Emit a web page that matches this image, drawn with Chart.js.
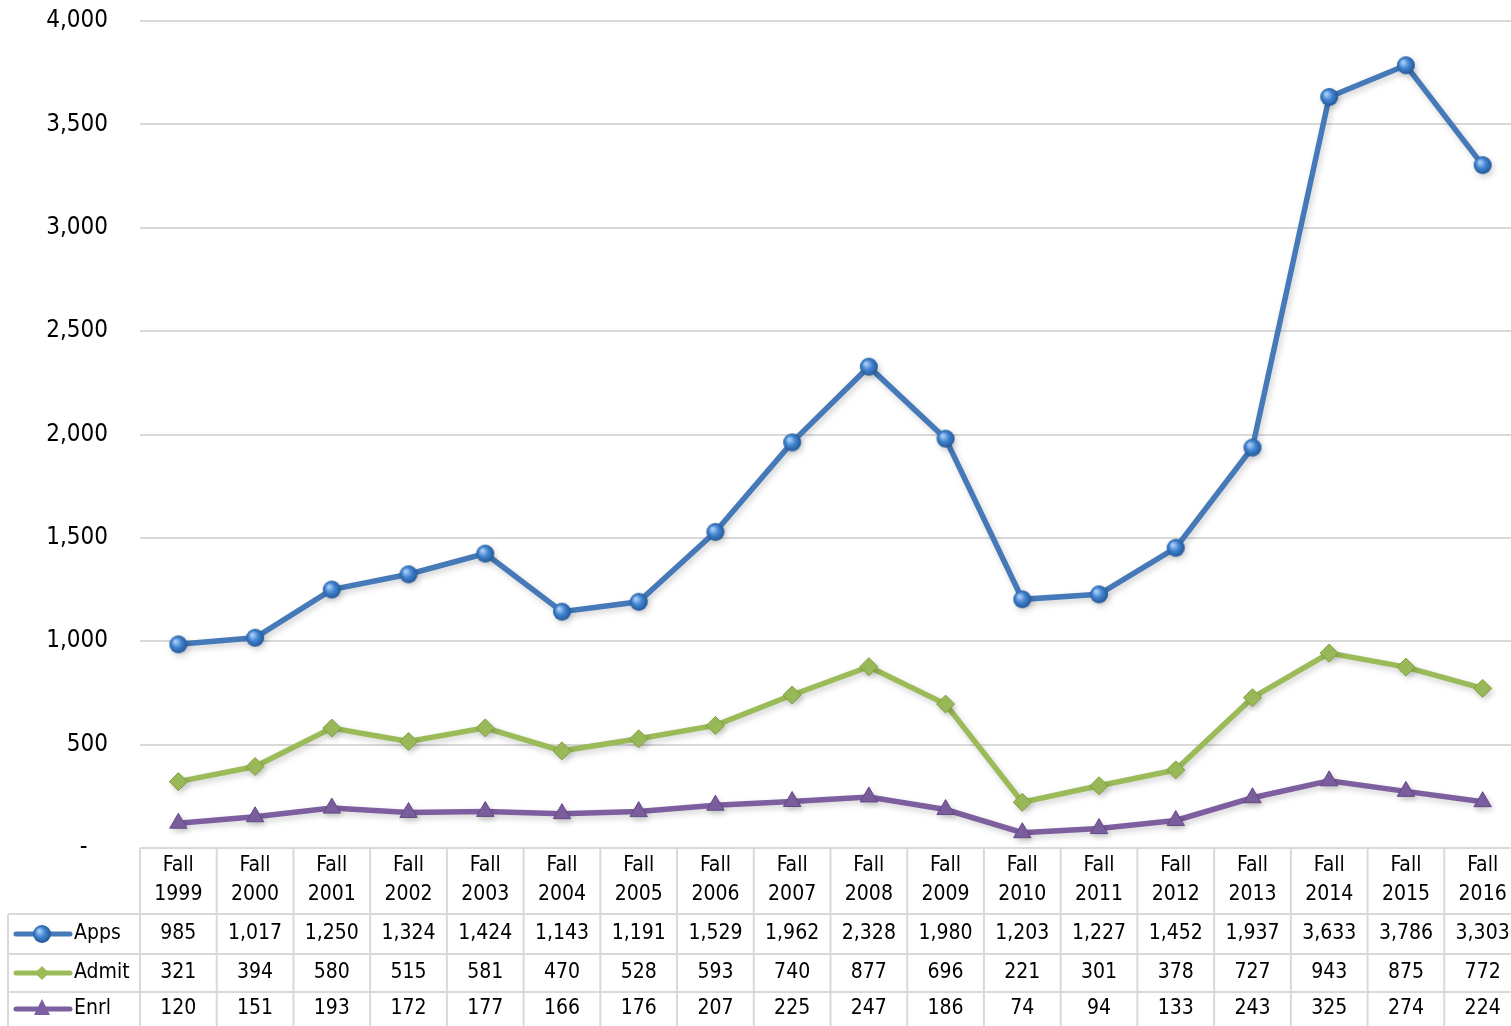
<!DOCTYPE html>
<html>
<head>
<meta charset="utf-8">
<script src="https://cdn.jsdelivr.net/npm/chart.js@4.4.1/dist/chart.umd.min.js"></script>
<style>
  html, body { margin: 0; padding: 0; background: #fff; overflow: hidden; }
  #wrap { width: 1511px; height: 1026px; position: relative; overflow: hidden; }
</style>
</head>
<body>
<!-- the original is cropped on the right, so the canvas runs a bit past the frame -->
<div id="wrap"><canvas id="admissionsChart" width="1521" height="1026"></canvas></div>
<script>
// chart values
const terms = ["Fall 1999", "Fall 2000", "Fall 2001", "Fall 2002", "Fall 2003", "Fall 2004",
  "Fall 2005", "Fall 2006", "Fall 2007", "Fall 2008", "Fall 2009", "Fall 2010",
  "Fall 2011", "Fall 2012", "Fall 2013", "Fall 2014", "Fall 2015", "Fall 2016"];
const apps = [985, 1017, 1250, 1324, 1424, 1143, 1191, 1529, 1962, 2328, 1980, 1203, 1227, 1452, 1937, 3633, 3786, 3303];
const admit = [321, 394, 580, 515, 581, 470, 528, 593, 740, 877, 696, 221, 301, 378, 727, 943, 875, 772];
const enrl = [120, 151, 193, 172, 177, 166, 176, 207, 225, 247, 186, 74, 94, 133, 243, 325, 274, 224];
const yTicks = [0, 500, 1000, 1500, 2000, 2500, 3000, 3500, 4000];

const FONT = "'DejaVu Sans Condensed', 'Liberation Sans Narrow', sans-serif";
const BLUE = "#4579b8";
const GREEN = "#9bbb59";
const PURPLE = "#7d5fa0";
const GRID = "#d9d9d9";

// shiny ball marker like the Excel one
function ballMarker(r) {
  const c = document.createElement("canvas");
  c.width = c.height = r * 2 + 2;
  const g = c.getContext("2d");
  const grad = g.createRadialGradient(r - 2, r - 2, 1, r + 1, r + 1, r + 1);
  grad.addColorStop(0, "#a6cbf5");
  grad.addColorStop(0.45, "#3f83d0");
  grad.addColorStop(1, "#1f4f8c");
  g.fillStyle = grad;
  g.beginPath();
  g.arc(r + 1, r + 1, r, 0, Math.PI * 2);
  g.fill();
  return c;
}
const ball = ballMarker(9);

function fmt(v) {
  return v.toLocaleString("en-US");
}

const series = [
  { label: "Apps", data: apps, color: BLUE },
  { label: "Admit", data: admit, color: GREEN },
  { label: "Enrl", data: enrl, color: PURPLE }
];

// soft shadow under the lines
const shadowPlugin = {
  id: "lineShadow",
  beforeDatasetDraw(chart) {
    const ctx = chart.ctx;
    ctx.save();
    ctx.shadowColor = "rgba(0,0,0,0.18)";
    ctx.shadowBlur = 6;
    ctx.shadowOffsetX = 2;
    ctx.shadowOffsetY = 3;
  },
  afterDatasetDraw(chart) {
    chart.ctx.restore();
  }
};

// data table under the plot
const tablePlugin = {
  id: "dataTable",
  afterDraw(chart) {
    const ctx = chart.ctx;
    const x = chart.scales.x;
    const area = chart.chartArea;
    const step = x.getPixelForValue(1) - x.getPixelForValue(0);
    const top = area.bottom;
    const rowLines = [top, top + 66, top + 106, top + 144, chart.height];
    const leftX = 8;

    ctx.save();
    ctx.strokeStyle = GRID;
    ctx.lineWidth = 2;

    ctx.beginPath();
    ctx.moveTo(area.left, rowLines[0]);
    ctx.lineTo(area.right, rowLines[0]);
    for (let i = 1; i < 4; i++) {
      ctx.moveTo(leftX, rowLines[i]);
      ctx.lineTo(area.right, rowLines[i]);
    }
    ctx.stroke();

    ctx.beginPath();
    ctx.moveTo(leftX, rowLines[1]);
    ctx.lineTo(leftX, rowLines[4]);
    for (let i = 0; i < terms.length; i++) {
      const bx = x.getPixelForValue(i) - step / 2;
      ctx.moveTo(bx, rowLines[0]);
      ctx.lineTo(bx, rowLines[4]);
    }
    ctx.stroke();

    ctx.fillStyle = "#000";
    ctx.textAlign = "center";
    ctx.textBaseline = "middle";
    ctx.font = "21px " + FONT;

    // header
    terms.forEach((t, i) => {
      const cx = x.getPixelForValue(i);
      const parts = t.split(" ");
      ctx.fillText(parts[0], cx, top + 18);
      ctx.fillText(parts[1], cx, top + 47);
    });

    // rows
    series.forEach((s, r) => {
      const cy = (rowLines[r + 1] + rowLines[r + 2]) / 2;
      ctx.textAlign = "center";
      s.data.forEach((v, i) => {
        ctx.fillText(fmt(v), x.getPixelForValue(i), cy);
      });

      // legend key
      ctx.strokeStyle = s.color;
      ctx.lineWidth = 5;
      ctx.lineCap = "round";
      ctx.beginPath();
      ctx.moveTo(16, cy);
      ctx.lineTo(70, cy);
      ctx.stroke();
      if (r === 0) {
        ctx.drawImage(ball, 42 - 10, cy - 10);
      } else if (r === 1) {
        ctx.fillStyle = s.color;
        ctx.beginPath();
        ctx.moveTo(42, cy - 7);
        ctx.lineTo(49, cy);
        ctx.lineTo(42, cy + 7);
        ctx.lineTo(35, cy);
        ctx.closePath();
        ctx.fill();
      } else {
        ctx.fillStyle = s.color;
        ctx.beginPath();
        ctx.moveTo(42, cy - 10);
        ctx.lineTo(50, cy + 6);
        ctx.lineTo(34, cy + 6);
        ctx.closePath();
        ctx.fill();
      }
      ctx.fillStyle = "#000";
      ctx.textAlign = "left";
      ctx.fillText(s.label, 74, cy);
    });
    ctx.restore();
  }
};

const ctx = document.getElementById("admissionsChart").getContext("2d");
new Chart(ctx, {
  type: "line",
  data: {
    labels: terms,
    datasets: [
      {
        label: "Apps",
        data: apps,
        borderColor: BLUE,
        backgroundColor: BLUE,
        borderWidth: 5.5,
        pointStyle: ball,
        pointRadius: 9,
        tension: 0
      },
      {
        label: "Admit",
        data: admit,
        borderColor: GREEN,
        backgroundColor: GREEN,
        borderWidth: 5.5,
        pointStyle: "rectRot",
        pointRadius: 9,
        pointBorderColor: "#7fa03c",
        pointBorderWidth: 1,
        tension: 0
      },
      {
        label: "Enrl",
        data: enrl,
        borderColor: PURPLE,
        backgroundColor: PURPLE,
        borderWidth: 5.5,
        pointStyle: "triangle",
        pointRadius: 10,
        pointBorderColor: "#644a85",
        pointBorderWidth: 1,
        tension: 0
      }
    ]
  },
  options: {
    responsive: false,
    animation: false,
    layout: { autoPadding: false, padding: { top: 0, bottom: 178, left: 0, right: 0 } },
    plugins: {
      legend: { display: false },
      tooltip: { enabled: false }
    },
    scales: {
      x: {
        display: false,
        offset: true
      },
      y: {
        min: 0,
        max: 4000,
        afterBuildTicks(axis) {
          axis.ticks = yTicks.map(v => ({ value: v }));
        },
        afterFit(axis) {
          axis.width = 140;
          axis.paddingTop = 21;
        },
        border: { display: false },
        grid: { color: GRID, lineWidth: 2, drawTicks: false },
        ticks: {
          color: "#000",
          padding: 32,
          font: { family: FONT, size: 24, lineHeight: 1 },
          callback: (v) => (v === 0 ? "-   " : fmt(v))
        }
      }
    }
  },
  plugins: [shadowPlugin, tablePlugin]
});
</script>
</body>
</html>
